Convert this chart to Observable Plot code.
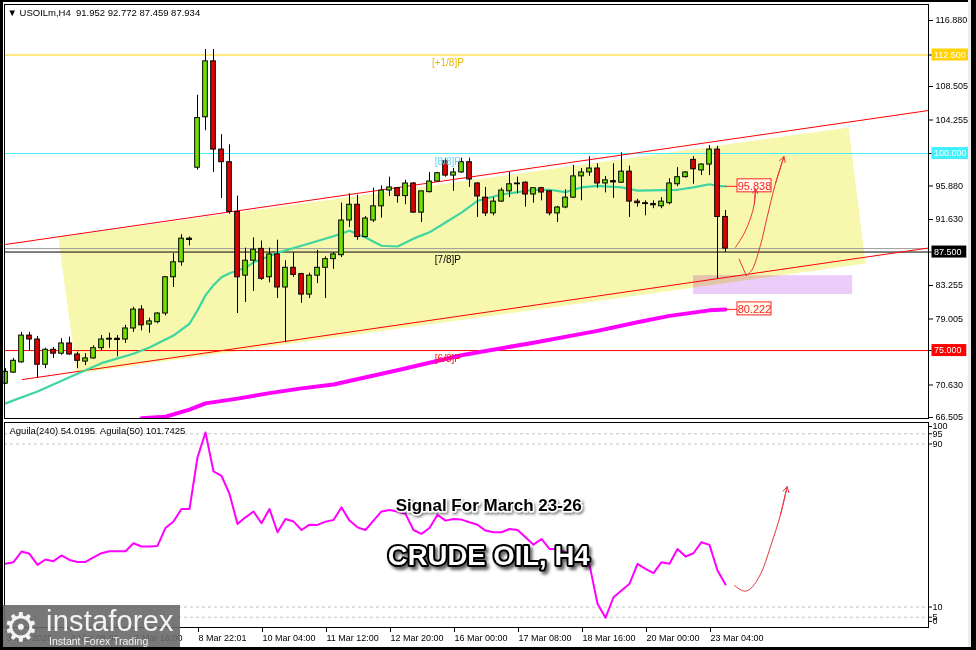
<!DOCTYPE html>
<html><head><meta charset="utf-8">
<script src="https://cdn.jsdelivr.net/npm/d3@7"></script>
<script src="https://cdn.jsdelivr.net/npm/@observablehq/plot@0.6"></script>
<style>
body{margin:0;background:#fff}
#wrap{position:relative;width:976px;height:650px;overflow:hidden;background:#fff;font-family:"Liberation Sans",Arial,sans-serif}
#main{position:absolute;left:0;top:0}
#ind{position:absolute;left:0;top:420px}
.bd{position:absolute;background:#000}
#logo{position:absolute;left:0;top:605px;width:180px;height:45px;background:rgba(105,105,105,0.9);color:#f4f4f4;overflow:hidden}
#logo .gear{position:absolute;left:3px;top:2px;font-size:40px;line-height:40px;font-family:"DejaVu Sans",sans-serif}
#logo .brand{position:absolute;left:46px;top:2px;font-size:29px;line-height:29px;letter-spacing:0.2px}
#logo .tag{position:absolute;left:49px;top:31px;font-size:10.5px;line-height:11px}
</style></head>
<body><div id="wrap">
<div id="main"></div>
<div id="ind"></div>
<div id="logo"><span class="gear">⚙</span><span class="brand">instaforex</span><span class="tag">Instant Forex Trading</span></div>
<div class="bd" style="left:0;top:0;width:3px;height:650px"></div>
<div class="bd" style="left:0;top:0;width:976px;height:2px"></div>
<div class="bd" style="left:971px;top:0;width:5px;height:650px"></div>
<div style="position:absolute;left:968px;top:0;width:3px;height:650px;background:#ececec"></div>
<div class="bd" style="left:0;top:647px;width:976px;height:3px"></div>
</div>
<script>
// ================= DATA =================
const headerText = "▼ USOILm,H4  91.952 92.772 87.459 87.934";
const aguilaTitle = "Aguila(240) 54.0195  Aguila(50) 101.7425";
const signalText = "Signal For March 23-26";
const crudeText = "CRUDE OIL, H4";

const timeTickIdx = [0,8,16,24,32,40,48,56,64,72,80,88];
const timeLabels = ["3 Mar 2026","4 Mar 08:00","5 Mar 16:00","8 Mar 22:01","10 Mar 04:00","11 Mar 12:00","12 Mar 20:00","16 Mar 00:00","17 Mar 08:00","18 Mar 16:00","20 Mar 00:00","23 Mar 04:00"];

const open = [70.8,72.2,73.5,76.9,76.4,73.2,75.1,74.6,75.9,74.5, 73.6,74.0,75.3,76.4,76.5,76.4,77.8,80.2,78.3,78.6, 79.7,84.3,86.2,89.2,98.2,104.6,111.7,100.5,98.9,92.6, 84.5,86.4,87.9,84.3,87.2,83.0,85.5,84.7,82.1,84.5, 85.5,86.6,87.1,91.5,93.5,89.4,91.5,93.3,95.3,95.6, 94.6,96.2,92.5,95.1,96.45,99.0,97.2,97.6,98.9,96.2, 94.4,92.4,93.9,95.2,96.1,96.3,94.8,95.6,95.2,92.4, 93.15,94.4,97.1,97.6,98.1,96.2,96.5,96.3,97.7,93.9, 93.7,93.6,93.3,93.7,96.1,97.0,99.2,97.85,98.6,100.5, 91.952];
const high = [72.7,74.0,77.3,77.3,76.8,75.3,75.4,76.5,76.7,74.8, 74.6,75.6,76.9,77.2,76.9,78.2,80.5,80.7,79.1,79.8, 84.4,87.3,89.7,89.4,107.4,113.2,113.2,102.4,101.1,94.6, 88.0,89.3,88.9,88.0,89.0,86.4,87.4,84.8,84.8,87.7, 86.9,87.4,93.7,94.9,94.7,92.0,95.6,95.9,97.0,95.7, 96.6,96.3,95.2,97.6,97.6,99.4,98.1,99.4,99.4,96.3, 95.7,94.4,95.6,97.6,97.0,96.4,95.6,95.7,95.2,93.3, 95.4,98.5,98.1,99.6,98.7,97.1,98.7,100.1,98.4,94.2, 94.0,94.0,94.4,96.8,98.2,97.7,99.6,98.7,101.0,100.9, 92.772];
const low = [70.7,72.1,73.4,75.0,71.5,72.7,74.0,74.4,74.4,72.7, 73.1,73.9,75.0,75.3,74.2,75.9,77.3,77.5,77.2,78.4, 79.4,83.0,85.7,88.3,97.9,102.9,97.6,94.3,92.3,79.7, 81.1,82.5,83.9,83.6,81.6,76.0,84.3,81.0,81.6,83.5, 81.6,85.3,86.8,90.6,89.0,89.3,91.25,91.8,94.55,93.7, 93.5,92.4,91.25,95.0,96.4,97.0,95.2,97.5,95.7,91.9, 92.0,92.1,93.8,94.4,94.9,93.2,93.7,94.0,92.1,91.25, 93.0,94.3,94.0,97.1,95.6,95.0,94.3,96.2,91.9,93.2, 92.1,93.0,93.0,93.5,95.8,96.9,96.1,97.2,97.2,84.1, 87.459];
const close = [72.3,73.7,76.9,76.4,73.2,75.1,74.6,75.9,74.5,73.7, 74.0,75.3,76.4,76.5,76.4,77.8,80.2,78.2,78.7,79.7, 84.3,86.2,89.2,89.1,104.5,111.7,100.5,98.9,92.6,84.3, 86.4,87.8,84.1,87.2,83.0,85.5,84.6,82.1,84.5,85.5, 86.6,87.2,91.5,93.5,89.4,91.75,93.3,95.3,95.7,94.6, 96.2,92.5,95.2,96.45,97.5,97.2,97.6,98.9,96.7,94.55, 92.4,93.9,95.3,96.1,96.2,94.8,95.6,95.05,92.4,93.15, 94.4,97.1,97.6,98.1,96.2,96.6,96.4,97.7,93.9,93.7, 93.65,93.5,93.9,96.2,97.0,97.6,98.0,98.6,100.5,91.952, 87.934];

const fastMaIdx = [0,4,8,10,12,16,18,21,23,24,25,26,27,28,30,31,34,37,41,43,45,47,49,51,53,55,57,59,62,66,68,70,72,74,77,79,84,86,88,89,90];
const fastMaVal = [68.3,69.8,71.6,72.5,73.4,74.6,75.4,76.9,78.4,80.1,82.0,83.3,84.3,84.8,85.5,86.2,87.4,88.3,89.5,90.2,89.35,88.3,88.2,89.2,90.0,91.25,92.5,94.0,94.8,95.4,95.4,95.1,95.7,95.9,95.7,95.3,95.4,95.7,96.1,95.9,95.838];
const slowMaIdx = [17,20,23,25,29,33,37,41,49,57,66,74,79,83,88,90];
const slowMaVal = [66.4,66.6,67.5,68.3,68.9,69.6,70.2,70.7,72.5,74.4,76.0,77.5,78.6,79.4,80.1,80.222];

const aguila = [31.2,32.0,37.2,36.1,30.7,33.3,32.5,35.3,33.1,32.1, 32.1,34.3,36.4,37.4,37.4,37.4,41.3,39.7,39.7,40.0, 48.8,52.0,58.1,58.1,83.4,95.6,76.5,74.4,65.5,50.8, 54.0,56.9,51.1,58.1,46.7,53.2,52.0,47.8,50.4,50.3, 51.9,52.7,58.9,52.4,49.1,47.8,52.4,56.9,57.6,56.9, 55.7,47.8,45.9,48.8,55.3,52.4,53.2,52.9,51.6,50.4, 47.5,46.7,46.7,48.3,47.8,44.2,40.6,43.4,38.5,38.5, 36.9,34.4,32.8,30.8,11.6,4.7,14.8,18.1,21.4,31.2, 28.7,26.6,32.0,31.2,38.5,34.8,36.4,41.8,40.5,27.9, 21.1];

const priceTicks = [116.88,108.505,104.255,95.88,91.63,83.255,79.005,70.63,66.505];
const murrayLevels = [112.5,100,87.5,75];
const murrayNames = ["[+1/8]P","[8/8]P","[7/8]P","[6/8]P"];
const bidPrice = 87.934;

const upperIdx = [0,115.375], upperVal = [88.46,105.46];
const lowerIdx = [2.1,115.375], lowerVal = [71.32,88.01];
const boxIdx = [6.6,105.4,107.5,8.9], boxVal = [89.34,103.3,86.04,72.08];
const zoneIdx = [86,105.9], zoneVal = [82.1,84.5];

const arrowAIdx = [91.25,92.3,93.1,93.6,93.75], arrowAVal = [88.1,89.8,91.7,93.6,95.5];
const arrowBDownIdx = [91.7,92.6], arrowBDownVal = [86.6,84.5];
const arrowBUpIdx = [92.6,93.3,94.4,95.2,96.25,97.3], arrowBUpVal = [84.5,85.2,88.5,91.9,96.2,99.6];
const arrowIndIdx = [91.1,92.3,93.1,94.4,95.6,96.9,97.7], arrowIndVal = [20.6,17.8,18.9,26.3,39.3,55.7,69.0];

const aguilaGrid = [95,90,10,5];
const aguilaTicks = [100,95,90,10,5,0];

// ================= CHART =================
const FONT = '"Liberation Sans", Arial, sans-serif';
const XDOM = [0,115.375], XRANGE = [5,928];
const pxPerIdx = (XRANGE[1]-XRANGE[0])/(XDOM[1]-XDOM[0]);
const idxAtPx = px => XDOM[0] + (px - XRANGE[0]) / pxPerIdx;
const pts = (xs, ys) => xs.map((x,k)=>({x, y: ys[k]}));
const headOf = (xs, ys) => [{x1: xs[xs.length-2], y1: ys[ys.length-2], x2: xs[xs.length-1], y2: ys[ys.length-1]}];

const candles = open.map((o,i)=>({i, o, h: high[i], l: low[i], c: close[i]}));
const upC = candles.filter(d => d.c >= d.o);
const dnC = candles.filter(d => d.c < d.o);
const HALF = 0.29;

const levelLine = ["#ffd200","#3ff0ff","#000000","#ff0000"];
const levelText = ["#e8b800","#62d9ee","#000000","#ff1010"];
const arrowColor = "#e8353f";
const GREEN = "#6fe000", RED = "#e00000";

const boxLeft = idxAtPx(931.5);
const boxW = s => (s.length * 5.3 + 3) / pxPerIdx;

const maLabels = [fastMaVal[fastMaVal.length-1], slowMaVal[slowMaVal.length-1]];
const maBoxL = idxAtPx(737), maBoxR = idxAtPx(771);

const mainMarks = [
  Plot.rect([0], {x1: () => zoneIdx[0], x2: () => zoneIdx[1], y1: () => zoneVal[0], y2: () => zoneVal[1], fill: "#ecccf8"}),
  Plot.line(pts(boxIdx, boxVal), {x: "x", y: "y", curve: "linear-closed", fill: "#f7f7ae", stroke: "none", mixBlendMode: "multiply"}),
  ...murrayLevels.map((v,k) => Plot.ruleY([v], {stroke: levelLine[k], strokeWidth: 1})),
  Plot.ruleY([bidPrice], {stroke: "#9a9a9a", strokeWidth: 1}),
  Plot.line(pts(upperIdx, upperVal), {x: "x", y: "y", stroke: "#ff0000", strokeWidth: 1}),
  Plot.line(pts(lowerIdx, lowerVal), {x: "x", y: "y", stroke: "#ff0000", strokeWidth: 1}),
  Plot.line(pts(slowMaIdx, slowMaVal), {x: "x", y: "y", stroke: "#ff00ff", strokeWidth: 4, clip: true}),
  Plot.line(pts(fastMaIdx, fastMaVal), {x: "x", y: "y", stroke: "#3ed6a0", strokeWidth: 2.2}),
  // MA value labels
  Plot.ruleY(maLabels, {x1: () => 90, x2: () => maBoxL, stroke: "#ff2020", strokeWidth: 1}),
  Plot.rect(maLabels, {x1: () => maBoxL, x2: () => maBoxR, y1: d => d, y2: d => d, insetTop: -7, insetBottom: -6, fill: "#fffff0", stroke: "#ff2020", strokeWidth: 1}),
  Plot.text(maLabels, {x: () => (maBoxL + maBoxR)/2, y: d => d, text: d => d.toFixed(3), fill: "#ff2020", fontSize: 11}),
  // candles
  Plot.ruleX(candles, {x: "i", y1: "l", y2: "h", stroke: "#000", strokeWidth: 1}),
  Plot.rect(upC, {x1: d => d.i - HALF, x2: d => d.i + HALF, y1: "o", y2: "c", fill: GREEN, stroke: "#000", strokeWidth: 1}),
  Plot.rect(dnC, {x1: d => d.i - HALF, x2: d => d.i + HALF, y1: "o", y2: "c", fill: RED, stroke: "#000", strokeWidth: 1}),
  Plot.ruleY(candles.filter(d => Math.abs(d.c - d.o) < 0.2), {x1: d => d.i - HALF - 0.08, x2: d => d.i + HALF + 0.08, y: "c", stroke: "#000", strokeWidth: 1}),
  // murray labels
  ...murrayLevels.map((v,k) => Plot.text([v], {x: () => 55.3, y: d => d, dy: 8, text: () => murrayNames[k], fill: levelText[k], fontSize: 10})),
  // arrows
  Plot.line(pts(arrowAIdx, arrowAVal), {x: "x", y: "y", curve: "catmull-rom", stroke: arrowColor, strokeWidth: 1}),
  Plot.arrow(headOf(arrowAIdx, arrowAVal), {x1: "x1", y1: "y1", x2: "x2", y2: "y2", stroke: arrowColor, strokeWidth: 1, headLength: 9}),
  Plot.line(pts(arrowBDownIdx, arrowBDownVal), {x: "x", y: "y", stroke: arrowColor, strokeWidth: 1}),
  Plot.line(pts(arrowBUpIdx, arrowBUpVal), {x: "x", y: "y", curve: "catmull-rom", stroke: arrowColor, strokeWidth: 1}),
  Plot.arrow(headOf(arrowBUpIdx, arrowBUpVal), {x1: "x1", y1: "y1", x2: "x2", y2: "y2", stroke: arrowColor, strokeWidth: 1, headLength: 9}),
  Plot.frame({stroke: "#000"}),
  Plot.axisY({ticks: priceTicks, anchor: "right", tickFormat: d => d.toFixed(3), tickSize: 4, tickPadding: 3, fontSize: 9, label: null}),
  // boxed level labels on the axis
  ...murrayLevels.map((v,k) => Plot.rect([v], {x1: () => boxLeft, x2: d => boxLeft + boxW(d.toFixed(3)), y1: d => d, y2: d => d, insetTop: -6, insetBottom: -6, fill: levelLine[k]})),
  Plot.ruleY(murrayLevels, {x1: () => idxAtPx(928), x2: () => boxLeft, stroke: "#000"}),
  Plot.text(murrayLevels, {x: () => boxLeft, y: d => d, dx: 2, text: d => d.toFixed(3), textAnchor: "start", fill: "#fff", fontSize: 9}),
  Plot.text([headerText], {frameAnchor: "top-left", text: d => d, dx: 3, dy: 5, fontSize: 9.5, fill: "#000"})
];

const main = Plot.plot({
  width: 976, height: 420,
  marginTop: 4, marginBottom: 2, marginLeft: 4, marginRight: 48,
  style: {fontFamily: FONT, fontSize: "9px", background: "transparent", color: "#000", overflow: "visible"},
  x: {domain: XDOM, range: XRANGE, axis: null},
  y: {domain: [66.505, 116.88], range: [417, 20]},
  marks: mainMarks
});
document.getElementById("main").appendChild(main);

const ind = Plot.plot({
  width: 976, height: 230,
  marginTop: 2, marginBottom: 23, marginLeft: 4, marginRight: 48,
  style: {fontFamily: FONT, fontSize: "9px", background: "transparent", color: "#000", overflow: "visible"},
  x: {domain: XDOM, range: XRANGE},
  y: {domain: [0, 100], range: [206.9, 3.1]},
  marks: [
    Plot.ruleY(aguilaGrid, {stroke: "#c4c4c4", strokeDasharray: "3,3", strokeWidth: 1}),
    Plot.line(aguila.map((v,i)=>({i, v})), {x: "i", y: "v", stroke: "#ff00ff", strokeWidth: 2}),
    Plot.line(pts(arrowIndIdx, arrowIndVal), {x: "x", y: "y", curve: "catmull-rom", stroke: arrowColor, strokeWidth: 1}),
    Plot.arrow(headOf(arrowIndIdx, arrowIndVal), {x1: "x1", y1: "y1", x2: "x2", y2: "y2", stroke: arrowColor, strokeWidth: 1, headLength: 9}),
    Plot.text([signalText], {x: () => 60.4, y: () => 59.8, text: d => d, fontSize: 17, fontWeight: "bold", fill: "#000", stroke: "#fff", strokeWidth: 3, paintOrder: "stroke"}),
    Plot.text([crudeText], {x: () => 60.4, y: () => 34.8, text: d => d, fontSize: 27.5, fontWeight: "bold", fill: "#fff", stroke: "#000", strokeWidth: 4, paintOrder: "stroke", strokeLinejoin: "round"}),
    Plot.frame({stroke: "#000"}),
    Plot.axisY({ticks: [100], anchor: "right", tickSize: 3, tickPadding: 1, dy: 3, fontSize: 9, label: null}),
    Plot.axisY({ticks: [0], anchor: "right", tickSize: 3, tickPadding: 1, dy: -6, fontSize: 9, label: null}),
    Plot.axisY({ticks: [95,90,10,5], anchor: "right", tickSize: 3, tickPadding: 1, fontSize: 9, label: null}),
    Plot.axisX({ticks: timeTickIdx, anchor: "bottom", tickFormat: d => timeLabels[timeTickIdx.indexOf(d)], textAnchor: "start", tickSize: 5, tickPadding: 2, dx: 1, fontSize: 9, label: null}),
    Plot.text([aguilaTitle], {frameAnchor: "top-left", text: d => d, dx: 5, dy: 5, fontSize: 9.5, fill: "#000"})
  ]
});
document.getElementById("ind").appendChild(ind);

// soft drop shadows on the two headline texts
const NS = "http://www.w3.org/2000/svg";
const defs = document.createElementNS(NS, "defs");
defs.innerHTML = '<filter id="shBig" x="-10%" y="-30%" width="130%" height="180%"><feDropShadow dx="2.5" dy="3" stdDeviation="1.6" flood-color="#000" flood-opacity="0.6"/></filter>' +
                 '<filter id="shSmall" x="-10%" y="-30%" width="130%" height="180%"><feDropShadow dx="1.5" dy="2" stdDeviation="1.2" flood-color="#000" flood-opacity="0.45"/></filter>';
ind.insertBefore(defs, ind.firstChild);
for (const t of ind.querySelectorAll("text")) {
  if (t.textContent === crudeText) { t.setAttribute("filter", "url(#shBig)"); t.setAttribute("paint-order", "stroke"); t.setAttribute("stroke-linejoin", "round"); }
  if (t.textContent === signalText) { t.setAttribute("filter", "url(#shSmall)"); t.setAttribute("paint-order", "stroke"); t.setAttribute("stroke-linejoin", "round"); }
}
</script>
</body></html>
